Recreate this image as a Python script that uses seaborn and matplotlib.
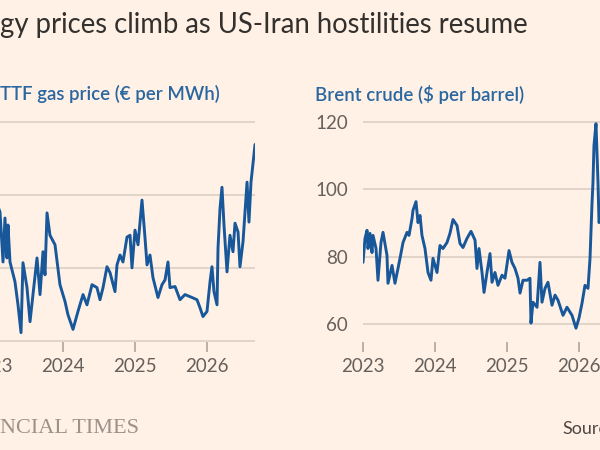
import seaborn as sns
import matplotlib.pyplot as plt

# TTF gas (EUR per MWh); x in decimal years
gas_year = [2023.08, 2023.125, 2023.167, 2023.194, 2023.222, 2023.236, 2023.264, 2023.333,
            2023.375, 2023.417, 2023.444, 2023.5, 2023.542, 2023.583, 2023.639, 2023.681,
            2023.722, 2023.75, 2023.778, 2023.819, 2023.889, 2023.958, 2024.028, 2024.069,
            2024.139, 2024.208, 2024.278, 2024.333, 2024.403, 2024.472, 2024.514, 2024.556,
            2024.611, 2024.653, 2024.722, 2024.75, 2024.792, 2024.833, 2024.889, 2024.931,
            2024.958, 2025.0, 2025.042, 2025.097, 2025.139, 2025.167, 2025.208, 2025.25,
            2025.319, 2025.375, 2025.417, 2025.458, 2025.486, 2025.556, 2025.625, 2025.694,
            2025.792, 2025.861, 2025.903, 2025.944, 2026.0, 2026.042, 2026.069, 2026.097,
            2026.139, 2026.153, 2026.181, 2026.208, 2026.236, 2026.278, 2026.319, 2026.361,
            2026.389, 2026.431, 2026.458, 2026.5, 2026.556, 2026.583, 2026.611, 2026.639,
            2026.667]
gas_price = [58.0, 55.3, 41.7, 53.7, 42.8, 51.8, 41.7, 36.3,
             30.0, 22.4, 41.5, 34.7, 25.4, 32.8, 42.8, 32.8,
             44.5, 38.2, 55.1, 49.0, 46.4, 35.5, 30.9, 27.3,
             23.3, 28.2, 32.8, 30.0, 35.5, 34.7, 31.4, 34.7,
             40.4, 38.8, 33.6, 40.9, 43.6, 41.7, 48.5, 49.0,
             40.1, 50.4, 46.4, 58.6, 48.3, 40.9, 43.6, 37.4,
             32.0, 35.5, 36.8, 41.7, 34.7, 35.0, 31.4, 32.8,
             32.0, 31.4, 29.2, 26.8, 28.2, 36.3, 40.4, 33.6,
             30.0, 45.5, 56.4, 62.1, 51.8, 39.0, 49.0, 44.5,
             52.3, 49.9, 40.4, 47.2, 63.5, 52.6, 63.5, 68.6,
             73.8]

# Brent crude ($ per barrel)
brent_year = [2023.0, 2023.028, 2023.056, 2023.069, 2023.097, 2023.125, 2023.139, 2023.181,
              2023.208, 2023.25, 2023.278, 2023.333, 2023.347, 2023.403, 2023.444, 2023.486,
              2023.514, 2023.556, 2023.611, 2023.639, 2023.681, 2023.694, 2023.736, 2023.764,
              2023.792, 2023.819, 2023.861, 2023.903, 2023.944, 2023.972, 2024.028, 2024.069,
              2024.111, 2024.167, 2024.208, 2024.25, 2024.306, 2024.347, 2024.389, 2024.444,
              2024.5, 2024.556, 2024.583, 2024.611, 2024.653, 2024.681, 2024.722, 2024.764,
              2024.792, 2024.833, 2024.875, 2024.931, 2024.972, 2025.028, 2025.069, 2025.111,
              2025.153, 2025.181, 2025.222, 2025.278, 2025.319, 2025.333, 2025.361, 2025.417,
              2025.458, 2025.486, 2025.528, 2025.569, 2025.625, 2025.667, 2025.708, 2025.778,
              2025.833, 2025.903, 2025.958, 2026.0, 2026.042, 2026.083, 2026.125, 2026.153,
              2026.181, 2026.194, 2026.208, 2026.236, 2026.264, 2026.278, 2026.31]
brent_price = [78.4, 85.5, 87.9, 82.5, 87.0, 81.3, 86.4, 82.5,
               73.1, 84.3, 87.3, 80.5, 72.2, 77.5, 72.2, 76.6,
               79.6, 84.3, 87.3, 86.4, 91.4, 93.8, 96.4, 90.2,
               92.3, 86.4, 82.5, 75.4, 73.1, 79.6, 75.4, 83.4,
               82.5, 84.3, 87.0, 91.1, 89.3, 84.0, 82.8, 85.5,
               87.6, 85.0, 76.6, 82.5, 75.4, 69.5, 75.4, 81.0,
               72.5, 75.4, 71.6, 74.6, 73.7, 81.9, 78.4, 76.6,
               73.7, 69.3, 73.1, 73.1, 73.7, 60.4, 66.6, 65.1,
               78.4, 66.6, 70.7, 72.5, 65.7, 68.7, 67.2, 62.7,
               65.1, 62.7, 58.9, 61.9, 66.3, 71.6, 70.7, 79.6,
               96.1, 102.0, 113.0, 119.5, 102.0, 90.2, 92.0]

year_ticks = [2023, 2024, 2025, 2026]
gas_ticks = [20, 40, 60, 80]
brent_ticks = [60, 80, 100, 120]

bg = "#FFF1E5"
line_col = "#17579A"
grid_col = "#D8CCC0"
tick_col = "#A89E95"
label_col = "#66605C"

sns.set_style("white", {"axes.facecolor": bg, "figure.facecolor": bg})
plt.rcParams["font.family"] = ["Lato", "DejaVu Sans"]

fig = plt.figure(figsize=(6, 4.5), dpi=100)
ax1 = fig.add_axes([-9 / 600, 108 / 450, 264 / 600, 221 / 450])
ax2 = fig.add_axes([363 / 600, 108 / 450, 264 / 600, 221 / 450])

sns.lineplot(x=gas_year, y=gas_price, ax=ax1, color=line_col, lw=2.1)
sns.lineplot(x=brent_year, y=brent_price, ax=ax2, color=line_col, lw=2.1)

ax1.set_ylim(19.85, 80.2)
ax1.set_yticks(gas_ticks)
ax2.set_ylim(54.8, 120.3)
ax2.set_yticks(brent_ticks)

for ax in (ax1, ax2):
    ax.set_xlim(2023, 2023 + 264 / 72)
    ax.set_xticks(year_ticks)
    ax.set_xticklabels([str(y) for y in year_ticks])
    ax.set_facecolor(bg)
    for s in ax.spines.values():
        s.set_visible(False)
    ax.grid(axis="y", color=grid_col, lw=1.1)
    ax.set_axisbelow(True)
    ax.tick_params(axis="x", length=7.5, width=1.1, color=tick_col, direction="out",
                   pad=4, labelsize=13.5, labelcolor=label_col, bottom=True)
    ax.tick_params(axis="y", length=0, pad=11, labelsize=13.5, labelcolor=label_col)
    ax.set_xlabel("")
    ax.set_ylabel("")

# the gas panel's value labels sit beyond the left edge of the picture
ax1.tick_params(axis="y", labelleft=False)

fig.text(0, 1 - 33 / 450, "gy prices climb as US-Iran hostilities resume",
         fontsize=19.8, color="#33302E", ha="left", va="baseline")
fig.text(0, 1 - 100 / 450, "TTF gas price (€ per MWh)", fontsize=13.4,
         color="#2A66A0", weight="semibold", ha="left", va="baseline")
fig.text(315 / 600, 1 - 101 / 450, "Brent crude ($ per barrel)", fontsize=13.4,
         color="#2A66A0", weight="semibold", ha="left", va="baseline")
fig.text(0, 1 - 433 / 450, "NCIAL TIMES", family=["Liberation Serif"], fontsize=16,
         color="#9C928A", ha="left", va="baseline")
fig.text(562 / 600, 1 - 434 / 450, "Source", fontsize=13, color="#4D4845",
         ha="left", va="baseline")

fig.savefig("out.png", dpi=100, facecolor=bg)
